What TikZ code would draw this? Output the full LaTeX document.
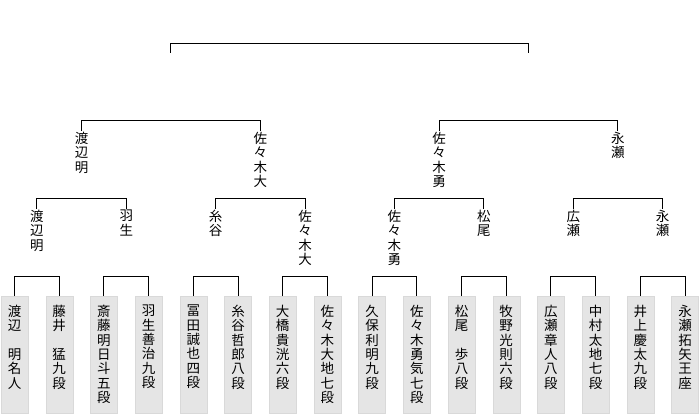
\documentclass[tikz,border=0pt]{standalone}
\usepackage{fontspec}
\newfontfamily\jp{Noto Sans CJK JP}
\usepackage{tikz}

\begin{document}
\begin{tikzpicture}[x = 1pt, y = 1pt,
    player/.style = {draw = gray!30, fill = gray!20, minimum width = 27pt, minimum height = 117pt, inner sep = 0pt, anchor = north},
    pname/.style = {anchor = north, align = center, inner sep = 0pt, font = {\jp\fontsize{13.5}{14.3}\selectfont}},
    winner/.style = {anchor = north, align = center, inner sep = 1pt, font = {\jp\fontsize{13.5}{14.3}\selectfont}},
    bracket/.style = {line width = 1pt}]
  \useasboundingbox (0,0) rectangle (700,415);
  % first round
  \foreach \s [count = \i] in {渡\\辺\\　\\明\\名\\人, 藤\\井\\　\\猛\\九\\段,
      斎\\藤\\明\\日\\斗\\五\\段, 羽\\生\\善\\治\\九\\段,
      冨\\田\\誠\\也\\四\\段, 糸\\谷\\哲\\郎\\八\\段,
      大\\橋\\貴\\洸\\六\\段, 佐\\々\\木\\大\\地\\七\\段,
      久\\保\\利\\明\\九\\段, 佐\\々\\木\\勇\\気\\七\\段,
      松\\尾\\　\\歩\\八\\段, 牧\\野\\光\\則\\六\\段,
      広\\瀬\\章\\人\\八\\段, 中\\村\\太\\地\\七\\段,
      井\\上\\慶\\太\\九\\段, 永\\瀬\\拓\\矢\\王\\座}
  {
    \pgfmathsetmacro\x{14.5 + 44.7*(\i - 1)}
    \node[player] (p\i) at (\x, 119) {};
    \node[pname] (n\i) at ([yshift = -9pt]p\i.north) {\s};
  }
  % second round
  \foreach \s [count = \i] in {渡\\辺\\明, 羽\\生, 糸\\谷, 佐\\々\\木\\大,
      佐\\々\\木\\勇, 松\\尾, 広\\瀬, 永\\瀬}
  {
    \pgfmathsetmacro\x{36.85 + 89.4*(\i - 1)}
    \node[winner] (q\i) at (\x, 206) {\s};
  }
  % semifinal
  \foreach \s [count = \i] in {渡\\辺\\明, 佐\\々\\木\\大, 佐\\々\\木\\勇, 永\\瀬}
  {
    \pgfmathsetmacro\x{81.55 + 178.8*(\i - 1)}
    \node[winner] (r\i) at (\x, 284) {\s};
  }
  \coordinate (s1) at (170.95, 362);
  \coordinate (s2) at (528.55, 362);

  \foreach \i in {1, 3, ..., 15}
  {
    \pgfmathtruncatemacro\j{\i + 1}
    \draw[bracket] (p\i.north) -- ++(0, 20) -| (p\j.north);
  }
  \foreach \i in {1, 3, 5, 7}
  {
    \pgfmathtruncatemacro\j{\i + 1}
    \draw[bracket] (q\i.north) -- ++(0, 10) -| (q\j.north);
  }
  \draw[bracket] (r1.north) -- ++(0, 10) -| (r2.north);
  \draw[bracket] (r3.north) -- ++(0, 10) -| (r4.north);
  \draw[bracket] (s1) -- ++(0, 9) -| (s2);
\end{tikzpicture}
\end{document}
